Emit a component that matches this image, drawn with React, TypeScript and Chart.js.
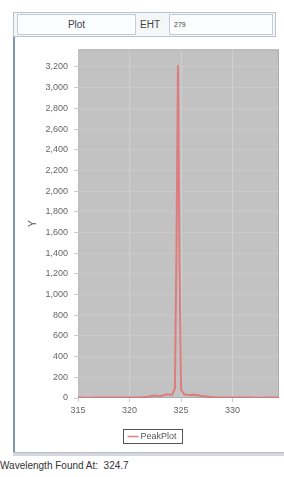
import React, { useEffect, useRef } from "react";
import { Chart, registerables } from "chart.js";

Chart.register(...registerables);

const wavelengths = [315, 316, 317, 318, 319, 320, 321, 321.8, 322.4, 323, 323.6, 324.1, 324.4, 324.55, 324.7, 324.85, 325.0, 325.3, 325.8, 326.4, 327, 327.8, 328.5, 329.5, 330.5, 331.5, 332.5, 333.5, 334.5];
const intensity = [4, 3, 5, 4, 5, 4, 6, 12, 25, 18, 35, 30, 90, 1400, 3220, 1300, 80, 35, 28, 32, 20, 10, 6, 5, 4, 5, 3, 4, 4];
const xTicks = [315, 320, 325, 330];
const yTicks = [0, 200, 400, 600, 800, 1000, 1200, 1400, 1600, 1800, 2000, 2200, 2400, 2600, 2800, 3000, 3200];
const seriesName = "PeakPlot";
const yTitle = "Y";
const headerLabel = "Plot";
const ehtLabel = "EHT";
const ehtValue = "279";
const footerText = "Wavelength Found At:  324.7";

const FONT = "'Liberation Sans', Arial, sans-serif";

export default function App() {
  const ref = useRef<HTMLCanvasElement | null>(null);

  useEffect(() => {
    document.body.style.margin = "0";
    const canvas = ref.current;
    if (!canvas) return;

    const bgPlugin = {
      id: "plotBg",
      beforeDraw(chart: any) {
        const { ctx, chartArea: a } = chart;
        ctx.save();
        ctx.fillStyle = "#c2c2c2";
        ctx.fillRect(a.left, a.top, a.right - a.left, a.bottom - a.top);
        ctx.strokeStyle = "#acacac";
        ctx.lineWidth = 1;
        ctx.strokeRect(a.left + 0.5, a.top + 0.5, a.right - a.left - 1, a.bottom - a.top - 1);
        ctx.restore();
      },
    };

    const legendPlugin = {
      id: "boxLegend",
      afterDraw(chart: any) {
        const ctx = chart.ctx;
        ctx.save();
        ctx.font = `9px ${FONT}`;
        const tw = ctx.measureText(seriesName).width;
        const w = tw + 23;
        const h = 14;
        const cx = chart.width / 2 + 3;
        const x = Math.round(cx - w / 2) + 0.5;
        const y = 391.5;
        ctx.fillStyle = "#ffffff";
        ctx.fillRect(x, y, w, h);
        ctx.strokeStyle = "#555555";
        ctx.lineWidth = 1;
        ctx.strokeRect(x, y, w, h);
        ctx.strokeStyle = "rgba(225,110,110,0.9)";
        ctx.lineWidth = 1.5;
        ctx.beginPath();
        ctx.moveTo(x + 4, y + h / 2);
        ctx.lineTo(x + 15, y + h / 2);
        ctx.stroke();
        ctx.fillStyle = "#555555";
        ctx.textBaseline = "middle";
        ctx.fillText(seriesName, x + 17, y + h / 2 + 0.5);
        ctx.restore();
      },
    };

    const chart = new Chart(canvas, {
      type: "line",
      data: {
        datasets: [
          {
            label: seriesName,
            data: wavelengths.map((x, i) => ({ x, y: intensity[i] })),
            borderColor: "rgba(226,112,112,0.85)",
            borderWidth: 2,
            pointRadius: 0,
            tension: 0,
            fill: false,
          },
        ],
      },
      options: {
        animation: false,
        responsive: false,
        maintainAspectRatio: false,
        layout: { padding: { left: 12, right: 5, top: 8, bottom: 0 } },
        plugins: {
          legend: { display: false },
          tooltip: { enabled: false },
        },
        scales: {
          x: {
            type: "linear",
            min: 315,
            max: 334.5,
            afterBuildTicks: (s: any) => {
              s.ticks = xTicks.map((v) => ({ value: v }));
            },
            afterFit: (s: any) => {
              s.height = 52;
            },
            border: { display: false },
            grid: {
              color: "rgba(255,255,255,0.22)",
              tickColor: "#cccccc",
              tickLength: 4,
            },
            ticks: {
              padding: 3,
              maxRotation: 0,
              autoSkip: false,
              color: "#666666",
              font: { family: FONT, size: 9 },
              callback: (v: any) => String(v),
            },
          },
          y: {
            type: "linear",
            min: 0,
            max: 3370,
            afterBuildTicks: (s: any) => {
              s.ticks = yTicks.map((v) => ({ value: v }));
            },
            afterFit: (s: any) => {
              s.width = 51;
            },
            border: { display: false },
            grid: {
              color: "rgba(255,255,255,0.14)",
              tickColor: "#cccccc",
              tickLength: 4,
            },
            title: {
              display: true,
              text: yTitle,
              color: "#555555",
              font: { family: FONT, size: 10 },
              padding: 0,
            },
            ticks: {
              padding: 6,
              autoSkip: false,
              color: "#666666",
              font: { family: FONT, size: 9 },
              callback: (v: any) => Number(v).toLocaleString("en-US"),
            },
          },
        },
      },
      plugins: [bgPlugin, legendPlugin],
    });

    return () => chart.destroy();
  }, []);

  return (
    <div style={{ position: "relative", width: 284, height: 477, background: "#ffffff", overflow: "hidden", fontFamily: FONT }}>
      <div style={{ position: "absolute", left: 13, top: 12, width: 263, height: 25, border: "1px solid #b9c3cf", background: "#f4f6f8", boxSizing: "border-box" }} />
      <div style={{ position: "absolute", left: 17, top: 14, width: 119, height: 21, border: "1px solid #c4ccd6", background: "#fbfcfd", boxSizing: "border-box", fontSize: 10, color: "#444", textAlign: "center", lineHeight: "19px" }}>{headerLabel}</div>
      <div style={{ position: "absolute", left: 140, top: 14, width: 28, height: 21, fontSize: 10, color: "#444", lineHeight: "21px" }}>{ehtLabel}</div>
      <div style={{ position: "absolute", left: 169, top: 14, width: 104, height: 21, border: "1px solid #c4ccd6", background: "#fbfcfd", boxSizing: "border-box", fontSize: 7, color: "#444", lineHeight: "19px", paddingLeft: 4 }}>{ehtValue}</div>
      <div style={{ position: "absolute", left: 13, top: 37, width: 2, height: 418, background: "#7f98b8" }} />
      <canvas ref={ref} width={269} height={412} style={{ position: "absolute", left: 15, top: 38, width: 269, height: 412 }} />
      <div style={{ position: "absolute", left: 13, top: 452, width: 271, height: 4, background: "#d4d8de", borderTop: "1px solid #b8bec6", boxSizing: "border-box" }} />
      <div style={{ position: "absolute", left: 0, top: 460, fontSize: 10, color: "#333", whiteSpace: "pre", lineHeight: "12px" }}>{footerText}</div>
    </div>
  );
}
